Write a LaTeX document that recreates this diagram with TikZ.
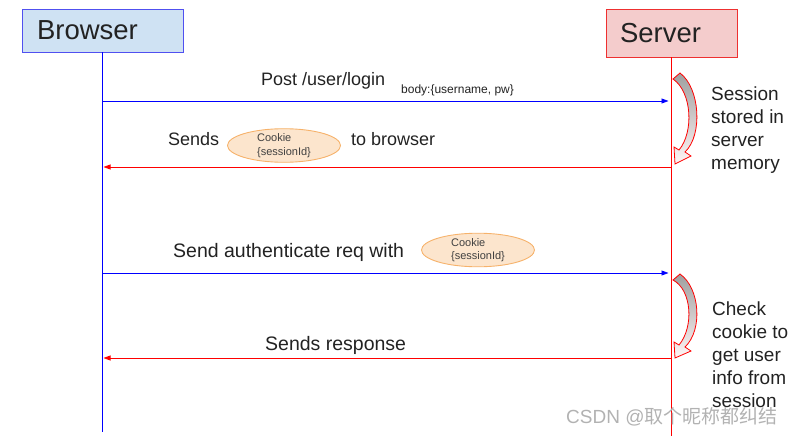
\documentclass[tikz,border=0pt]{standalone}
\usepackage{fontspec}
\setmainfont{Liberation Sans}
\newfontfamily\cjkfont{Noto Sans CJK SC}
\usetikzlibrary{arrows.meta,shapes.geometric}

\definecolor{brfill}{HTML}{CFE2F3}
\definecolor{brline}{HTML}{5050F0}
\definecolor{svfill}{HTML}{F4CCCC}
\definecolor{svline}{HTML}{EE3030}
\definecolor{ckfill}{HTML}{FCE5CD}
\definecolor{ckline}{HTML}{F6B26B}
\definecolor{txt}{HTML}{222222}

\begin{document}
\begin{tikzpicture}[
  x=1pt, y=-1pt,
  actor/.style={rectangle, draw, line width=0.9pt, inner xsep=15pt, inner ysep=0pt,
                font=\fontsize{27.5}{30}\selectfont, text=txt},
  life/.style={line width=0.9pt},
  tob/.style={->, >={Triangle[length=7pt, width=5pt]}, line width=0.8pt, blue, shorten >=3pt},
  tobr/.style={->, >={Triangle[length=7pt, width=5pt]}, line width=0.8pt, red, shorten >=1pt},
  msg/.style={anchor=base west, inner sep=0pt, font=\fontsize{18}{22}\selectfont, text=txt},
  bigmsg/.style={msg, font=\fontsize{19.5}{23}\selectfont},
  small/.style={anchor=base west, inner sep=0pt, font=\fontsize{12}{14}\selectfont, text=txt},
  cookie/.style={ellipse, draw=ckline, fill=ckfill, line width=0.9pt, inner sep=0pt,
                 minimum width=113pt, minimum height=29pt, align=left,
                 font=\fontsize{11}{13.5}\selectfont, text=black!75},
  note/.style={anchor=base west, inner sep=0pt, align=left,
               font=\fontsize{19}{23}\selectfont, text=txt},
  turn/.style={draw=red, line width=0.8pt, top color=gray!75, bottom color=red!4},
]
\useasboundingbox (0,0) rectangle (792,436);

% --- actors ---
\node[actor, draw=brline, fill=brfill, text width=131pt, minimum height=43pt] (browser) at (102.5,30.5) {Browser};
\node[actor, draw=svline, fill=svfill, text width=103pt, inner xsep=14pt, minimum height=48pt] (server) at (671.5,33) {Server};

\coordinate (bend) at (102.5,432);
\coordinate (send) at (671.5,436);
\draw[life, blue] (browser.south) -- (bend);
\draw[life, red] (server.south) -- (send);

% --- points on the lifelines ---
\coordinate (b1) at (102.5,101);
\coordinate (s1) at (671.5,101);
\coordinate (b2) at (102.5,167);
\coordinate (s2) at (671.5,167);
\coordinate (b3) at (102.5,273);
\coordinate (s3) at (671.5,273);
\coordinate (b4) at (102.5,358);
\coordinate (s4) at (671.5,358);

% --- login ---
\draw[tob] (b1) -- (s1);
\node[msg] (post) at (261,85) {Post /user/login};
\node[small] (body) at (401,93) {body:\{username, pw\}};

% --- cookie back ---
\draw[tobr] (s2) -- (b2);
\node[msg] (sends) at (168,145) {Sends};
\node[cookie] (ck1) at (284,145.5) {Cookie\\\{sessionId\}};
\node[msg] (tobrowser) at (351,145) {to browser};

% --- authenticated request ---
\draw[tob] (b3) -- (s3);
\node[bigmsg] (auth) at (173,257) {Send authenticate req with};
\node[cookie] (ck2) at (478,250) {Cookie\\\{sessionId\}};

% --- response ---
\draw[tobr] (s4) -- (b4);
\node[bigmsg] (resp) at (265,350) {Sends response};

% --- server side work ---
\path[turn] (680,73) .. controls (700,88) and (703,135) .. (685,152)
  -- (691,156) -- (675,164) -- (674,147) -- (679,150)
  .. controls (694,132) and (692,92) .. (673,79) -- cycle;
\path[turn] (680,274) .. controls (700,288) and (703,330) .. (685,347)
  -- (691,351) -- (675,358) -- (674,342) -- (679,345)
  .. controls (694,327) and (692,290) .. (673,280) -- cycle;

\node[note] (stored) at (711,169) {Session\\stored in\\server\\memory};
\node[note] (check) at (712,407) {Check\\cookie to\\get user\\info from\\session};

% watermark
\node[anchor=base west, inner sep=0pt, font=\fontsize{19}{22}\selectfont, text=black!30] (mark) at (566,423) {CSDN @{\cjkfont 取个昵称都纠结}};

\end{tikzpicture}
\end{document}
